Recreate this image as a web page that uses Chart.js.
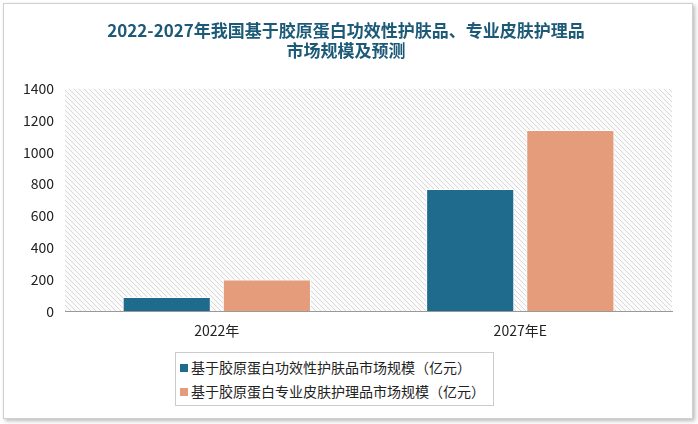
<!DOCTYPE html>
<html><head><meta charset="utf-8">
<script src="https://cdn.jsdelivr.net/npm/chart.js@4"></script>
<style>
body{margin:0;background:#fff;font-family:"Noto Sans CJK SC",sans-serif}
#wrap{position:absolute;left:3px;top:3px;width:688px;height:414px;border:1px solid #d0d0d0;box-shadow:2px 2px 4px #bbb;background:#fff}
#legend{position:absolute;left:175px;top:352px;width:313px;border:1px solid #ccc;padding:2px 0 2px 4px;font-size:14px;color:#222;line-height:24px;background:#fff}
#legend span.b{display:inline-block;width:8px;height:8px;margin-right:3px;vertical-align:1px}
</style></head><body>
<div id="wrap"></div>
<canvas id="c" width="698" height="424" style="position:absolute;left:0;top:0"></canvas>
<div id="legend"></div>
<script>
const categories=["2022年","2027年E"];
const seriesNames=["基于胶原蛋白功效性护肤品市场规模（亿元）","基于胶原蛋白专业皮肤护理品市场规模（亿元）"];
const seriesA=[90,770];
const seriesB=[200,1140];
const colors=["#1f6b8e","#e59c7b"];
const titleLines=["2022-2027年我国基于胶原蛋白功效性护肤品、专业皮肤护理品","市场规模及预测"];

document.getElementById('legend').innerHTML=seriesNames.map((n,i)=>'<div><span class="b" style="background:'+colors[i]+'"></span>'+n+'</div>').join('');

const pc=document.createElement('canvas');pc.width=5;pc.height=5;
const px=pc.getContext('2d');px.fillStyle='#fbfbfb';px.fillRect(0,0,5,5);
px.strokeStyle='#d8d8d8';px.lineWidth=1;px.beginPath();
px.moveTo(0,0);px.lineTo(5,5);px.moveTo(-3,2);px.lineTo(3,8);px.moveTo(2,-3);px.lineTo(8,3);px.stroke();
const bgPlugin={id:'bg',beforeDraw(ch){const a=ch.chartArea,c=ch.ctx;c.save();c.fillStyle=c.createPattern(pc,'repeat');c.fillRect(a.left,a.top,a.right-a.left,a.bottom-a.top);c.restore();}};

new Chart(document.getElementById('c'),{
type:'bar',
data:{labels:categories,datasets:[
{label:seriesNames[0],data:seriesA,backgroundColor:colors[0],borderColor:'#fff',borderWidth:1},
{label:seriesNames[1],data:seriesB,backgroundColor:colors[1],borderColor:'#fff',borderWidth:1}]},
plugins:[bgPlugin],
options:{responsive:false,animation:false,
layout:{padding:{left:20,right:26,top:0,bottom:82}},
categoryPercentage:0.66,barPercentage:0.88,
plugins:{legend:{display:false},tooltip:{enabled:false},
title:{display:true,text:titleLines,color:'#1c5a78',font:{size:17,weight:'bold',family:'"Noto Sans CJK SC"'},padding:{top:20,bottom:28},lineHeight:1.35}},
scales:{
y:{min:0,max:1400,ticks:{stepSize:200,color:'#222',callback:v=>String(v),font:{size:14,family:'"Noto Sans CJK SC"'}},grid:{display:false},border:{display:false}},
x:{ticks:{color:'#222',font:{size:14,family:'"Noto Sans CJK SC"'}},grid:{display:false},border:{color:'#999'}}
}}},
);
</script></body></html>
